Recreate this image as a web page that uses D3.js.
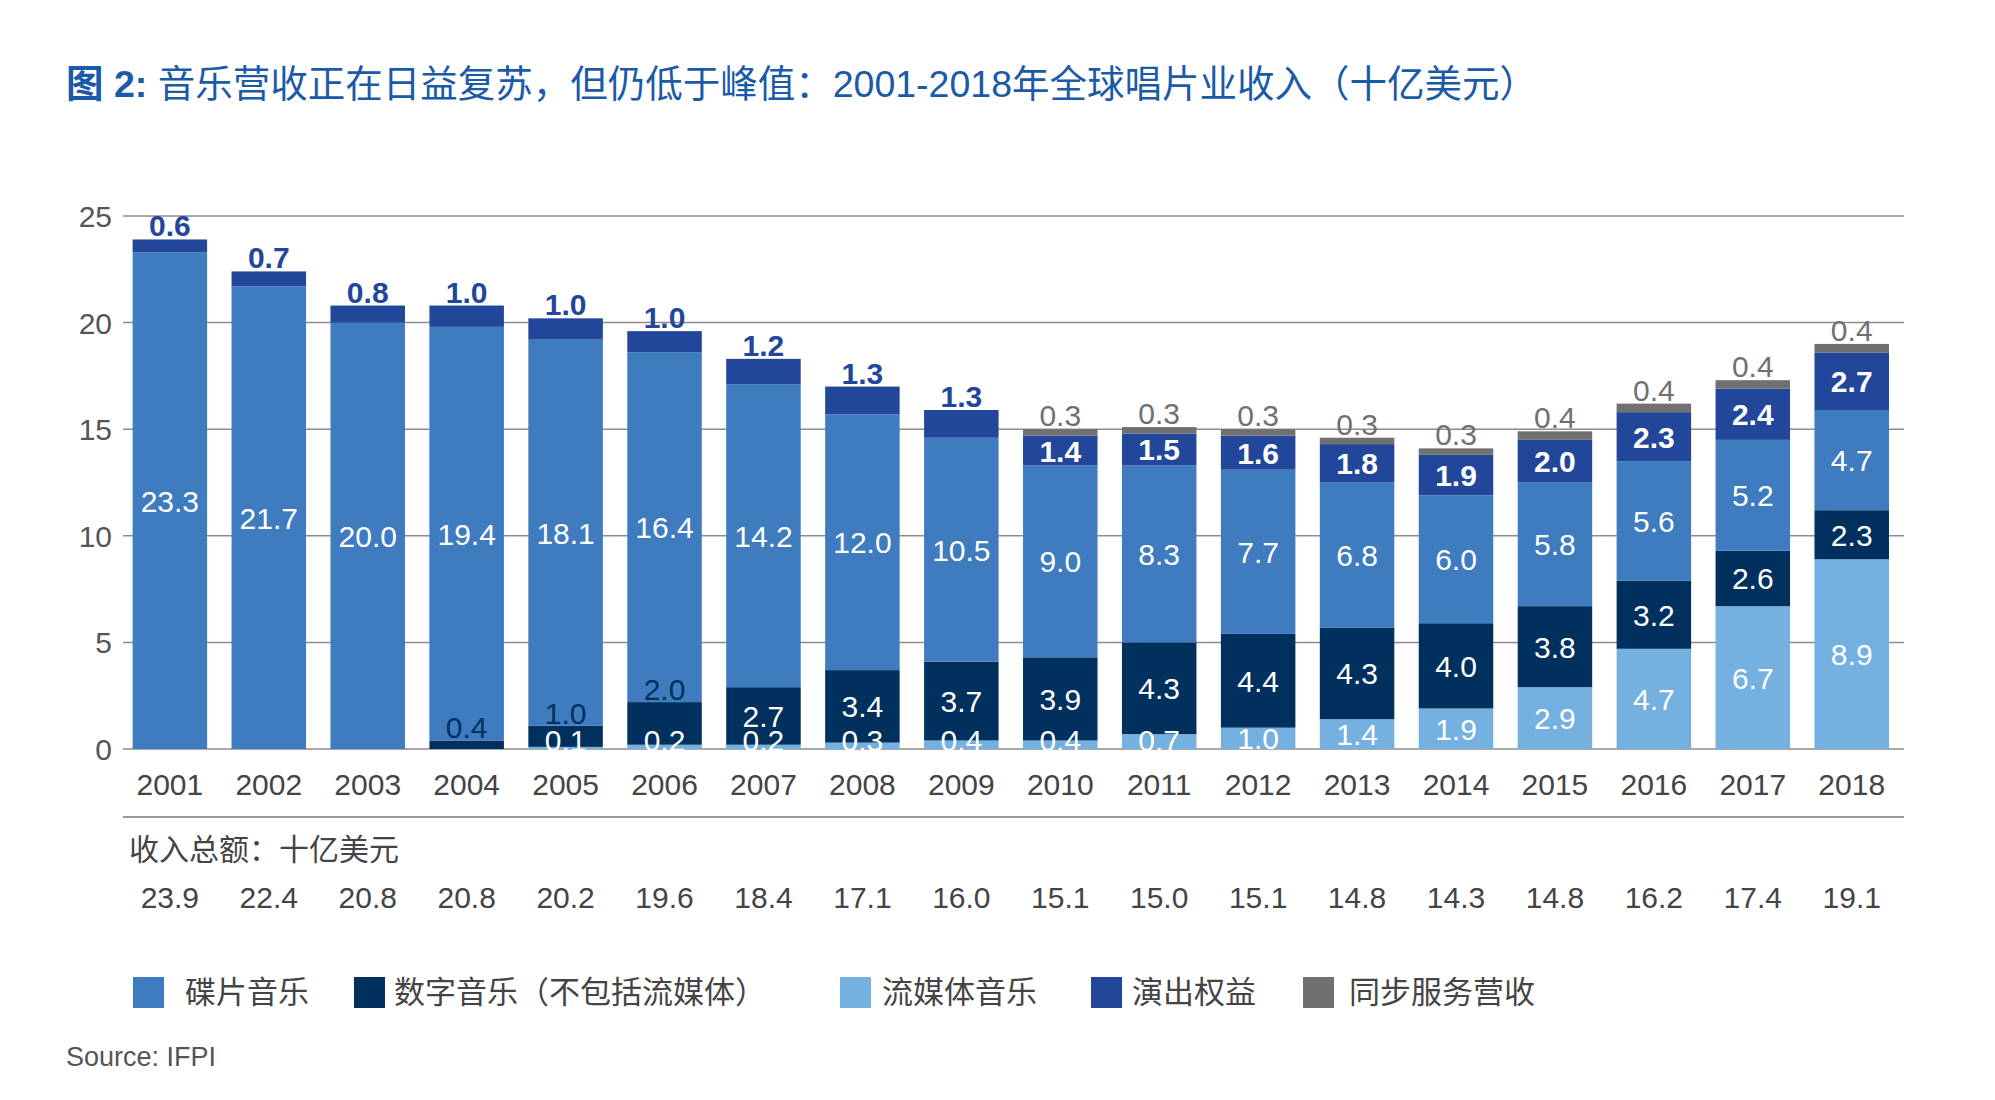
<!DOCTYPE html>
<html>
<head>
<meta charset="utf-8">
<script src="https://cdn.jsdelivr.net/npm/d3@7"></script>
<style>
	body{margin:0;background:#fff;}
	svg{display:block;font-family:"Liberation Sans","Noto Sans CJK SC",sans-serif;}
</style>
</head>
<body>
<svg id="chart" width="1995" height="1100"></svg>
<script>
const years = ['2001','2002','2003','2004','2005','2006','2007','2008','2009','2010','2011','2012','2013','2014','2015','2016','2017','2018'];
const streaming = [0,0,0,0,0.1,0.2,0.2,0.3,0.4,0.4,0.7,1.0,1.4,1.9,2.9,4.7,6.7,8.9];
const digital = [0,0,0,0.4,1.0,2.0,2.7,3.4,3.7,3.9,4.3,4.4,4.3,4.0,3.8,3.2,2.6,2.3];
const physical = [23.3,21.7,20.0,19.4,18.1,16.4,14.2,12.0,10.5,9.0,8.3,7.7,6.8,6.0,5.8,5.6,5.2,4.7];
const performance = [0.6,0.7,0.8,1.0,1.0,1.0,1.2,1.3,1.3,1.4,1.5,1.6,1.8,1.9,2.0,2.3,2.4,2.7];
const sync = [0,0,0,0,0,0,0,0,0,0.3,0.3,0.3,0.3,0.3,0.4,0.4,0.4,0.4];
const totals = ['23.9','22.4','20.8','20.8','20.2','19.6','18.4','17.1','16.0','15.1','15.0','15.1','14.8','14.3','14.8','16.2','17.4','19.1'];
const yTicks = [0,5,10,15,20,25];

const seriesInfo = [
	{key:'streaming', name:'流媒体音乐', color:'#74b0e0', values:streaming},
	{key:'digital', name:'数字音乐（不包括流媒体）', color:'#00305e', values:digital},
	{key:'physical', name:'碟片音乐', color:'#3e7bbf', values:physical},
	{key:'performance', name:'演出权益', color:'#22479a', values:performance},
	{key:'sync', name:'同步服务营收', color:'#707070', values:sync}
];
const legendOrder = ['physical','digital','streaming','performance','sync'];

const table = years.map((y,i)=>{
	const row = {year:y};
	seriesInfo.forEach(s=>{ row[s.key] = s.values[i]; });
	return row;
});

const svg = d3.select('#chart');

const x = d3.scaleBand()
	.domain(years)
	.range([120.4,1901.2])
	.paddingInner(0.247)
	.paddingOuter(0.1235);
const y = d3.scaleLinear().domain([0,25]).range([749,216]);

// title
const title = svg.append('text')
	.attr('x',66).attr('y',97)
	.attr('font-size',37.5)
	.attr('fill','#1b5aa6');
title.append('tspan').attr('font-weight','bold').text('图 2:');
title.append('tspan').text(' 音乐营收正在日益复苏，但仍低于峰值：2001-2018年全球唱片业收入（十亿美元）');

// grid + y labels
svg.append('g').selectAll('line')
	.data(yTicks)
	.join('line')
		.attr('x1',123).attr('x2',1904)
		.attr('y1',d=>y(d)).attr('y2',d=>y(d))
		.attr('stroke','#8c8c8c')
		.attr('stroke-width',1.5);
svg.append('g').selectAll('text')
	.data(yTicks)
	.join('text')
		.attr('x',112)
		.attr('y',d=>y(d)+11)
		.attr('text-anchor','end')
		.attr('font-size',30)
		.attr('fill','#555')
		.text(d=>d);

// stacked bars
const stack = d3.stack().keys(seriesInfo.map(s=>s.key));
const layers = stack(table);
const colorOf = {};
seriesInfo.forEach(s=>colorOf[s.key]=s.color);

svg.append('g').selectAll('g')
	.data(layers)
	.join('g')
		.attr('fill',d=>colorOf[d.key])
	.selectAll('rect')
	.data(d=>d.filter(p=>p[1]-p[0]>0))
	.join('rect')
		.attr('x',d=>x(d.data.year))
		.attr('width',x.bandwidth())
		.attr('y',d=>y(d[1]))
		.attr('height',d=>y(d[0])-y(d[1]));

// value labels, cut off just under the baseline like the original
svg.append('clipPath').attr('id','plotClip')
	.append('rect').attr('x',0).attr('y',0).attr('width',1995).attr('height',752);

const labels = [];
layers.forEach(layer=>{
	layer.forEach(p=>{
		const v = p[1]-p[0];
		if(v<=0) return;
		const yr = p.data.year;
		const cx = x(yr)+x.bandwidth()/2;
		const idx = years.indexOf(yr);
		let cy = Math.min((y(p[0])+y(p[1]))/2, 740);
		let fill = '#fff', weight = 'normal', base = null;
		if(layer.key==='digital' && idx<=5){
			fill = '#00305e';
			base = y(p[1]) - 2;
		}
		if(layer.key==='performance'){
			weight = 'bold';
			if(idx<=8){ fill = '#22479a'; base = y(p[1]) - 3; }
		}
		if(layer.key==='sync'){
			fill = '#707070';
			base = y(p[1]) - 3;
		}
		labels.push({x:cx, y: base!==null ? base : cy+11, fill, weight, text:d3.format('.1f')(v)});
	});
});
svg.append('g').attr('clip-path','url(#plotClip)')
	.selectAll('text')
	.data(labels)
	.join('text')
		.attr('x',d=>d.x)
		.attr('y',d=>d.y)
		.attr('text-anchor','middle')
		.attr('font-size',30)
		.attr('font-weight',d=>d.weight)
		.attr('fill',d=>d.fill)
		.text(d=>d.text);

// x labels
svg.append('g').selectAll('text')
	.data(years)
	.join('text')
		.attr('x',d=>x(d)+x.bandwidth()/2)
		.attr('y',795)
		.attr('text-anchor','middle')
		.attr('font-size',30)
		.attr('fill','#444')
		.text(d=>d);

svg.append('line')
	.attr('x1',123).attr('x2',1904)
	.attr('y1',817).attr('y2',817)
	.attr('stroke','#777').attr('stroke-width',1.5);

svg.append('text')
	.attr('x',129).attr('y',860)
	.attr('font-size',30)
	.attr('fill','#444')
	.text('收入总额：十亿美元');

svg.append('g').selectAll('text')
	.data(totals)
	.join('text')
		.attr('x',(d,i)=>x(years[i])+x.bandwidth()/2)
		.attr('y',908)
		.attr('text-anchor','middle')
		.attr('font-size',30)
		.attr('fill','#444')
		.text(d=>d);

// legend
const legendX = [133,354,840,1091,1303];
const legendTextX = [185,394,882,1132,1349];
const lg = svg.append('g').selectAll('g')
	.data(legendOrder.map(k=>seriesInfo.find(s=>s.key===k)))
	.join('g');
lg.append('rect')
	.attr('x',(d,i)=>legendX[i])
	.attr('y',977)
	.attr('width',31).attr('height',31)
	.attr('fill',d=>d.color);
lg.append('text')
	.attr('x',(d,i)=>legendTextX[i])
	.attr('y',1003)
	.attr('font-size',31)
	.attr('fill','#444')
	.text(d=>d.name);

svg.append('text')
	.attr('x',66).attr('y',1066)
	.attr('font-size',27)
	.attr('fill','#555')
	.text('Source: IFPI');
</script>
</body>
</html>
